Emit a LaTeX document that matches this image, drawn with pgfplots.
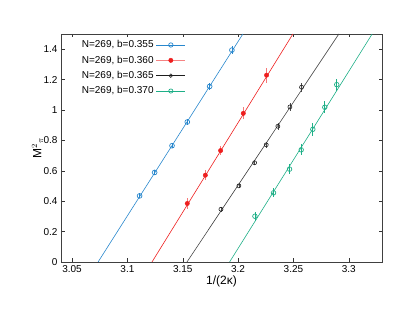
\documentclass[border=0pt]{standalone}
\usepackage{graphicx}
\usepackage{pgfplots}
\pgfplotsset{compat=1.18}
\usepackage{fontspec}
\setmainfont{Liberation Sans}
\definecolor{cB}{RGB}{40,135,205}
\definecolor{cR}{RGB}{238,30,30}
\definecolor{cK}{RGB}{30,30,30}
\definecolor{cG}{RGB}{30,175,135}
\begin{document}
\begin{tikzpicture}
\path[use as bounding box] (-61pt,-53pt) rectangle (346pt,262pt);
\begin{axis}[
  scale only axis, width=321pt, height=228pt,
  xmin=3.04, xmax=3.33, ymin=0, ymax=1.5,
  xtick={3.05,3.1,3.15,3.2,3.25,3.3},
  ytick={0,0.2,0.4,0.6,0.8,1,1.2,1.4},
  /pgf/number format/assume math mode=true,
  tick label style={font=\fontsize{10}{12}\selectfont},
  tick align=inside, major tick length=3.5pt,
  tick style={black!80, line width=0.5pt},
  axis line style={black!75, line width=0.7pt},
  xlabel={1/(2κ)},
  every axis x label/.style={at={(axis description cs:0.5,-0.083)}, anchor=center,
    font=\fontsize{12}{14}\selectfont},
  legend plot pos=right,
  legend cell align=right,
  legend style={draw=none, fill=none, at={(rel axis cs:0.055,0.985)}, anchor=north west,
    font=\fontsize{10}{12}\selectfont, row sep=2.6pt, inner sep=1pt},
  error bars/y dir=both, error bars/y explicit,
  error bars/error mark=none,
]
% data series
\addplot[cB, only marks, mark=o, mark size=2.4pt, mark options={line width=0.7pt},
  error bars/error bar style={cB, line width=0.7pt},
  legend image code/.code={\draw[cB,line width=0.7pt] (0pt,0pt) -- (29pt,0pt);
    \draw[cB,line width=0.7pt] (14.5pt,0pt) circle (2.2pt);}]
  coordinates {
  (3.111,0.435) +- (0,0.015)
  (3.1246,0.589) +- (0,0.016)
  (3.1403,0.765) +- (0,0.018)
  (3.1541,0.921) +- (0,0.02)
  (3.1743,1.155) +- (0,0.024)
  (3.1944,1.394) +- (0,0.028)
  };
\addlegendentry{N=269, b=0.355}
\addplot[cR, only marks, mark=*, mark size=2.2pt,
  error bars/error bar style={cR!60, line width=1.2pt},
  legend image code/.code={\draw[cR!55,line width=1.5pt] (0pt,0pt) -- (29pt,0pt);
    \fill[cR] (14.5pt,0pt) circle (2.2pt);}]
  coordinates {
  (3.1541,0.385) +- (0,0.035)
  (3.1704,0.571) +- (0,0.033)
  (3.1842,0.733) +- (0,0.03)
  (3.2047,0.978) +- (0,0.04)
  (3.2257,1.229) +- (0,0.05)
  };
\addlegendentry{N=269, b=0.360}
\addplot[cK, only marks, mark=o, mark size=2pt, mark options={line width=0.6pt},
  error bars/error bar style={cK!80, line width=0.6pt},
  legend image code/.code={\draw[cK,line width=0.7pt] (0pt,0pt) -- (29pt,0pt);
    \draw[cK,line width=0.6pt] (14.5pt,0pt) circle (1.8pt);}]
  coordinates {
  (3.1845,0.347) +- (0,0.015)
  (3.2007,0.501) +- (0,0.016)
  (3.2149,0.653) +- (0,0.018)
  (3.2254,0.771) +- (0,0.02)
  (3.2359,0.893) +- (0,0.022)
  (3.2468,1.020) +- (0,0.025)
  (3.2573,1.150) +- (0,0.03)
  };
\addlegendentry{N=269, b=0.365}
\addplot[cG, only marks, mark=o, mark size=2.3pt, mark options={line width=0.7pt},
  error bars/error bar style={cG, line width=0.7pt},
  legend image code/.code={\draw[cG,line width=0.7pt] (0pt,0pt) -- (29pt,0pt);
    \draw[cG,line width=0.7pt] (14.5pt,0pt) circle (2.1pt);}]
  coordinates {
  (3.2152,0.301) +- (0,0.03)
  (3.2320,0.455) +- (0,0.03)
  (3.2465,0.611) +- (0,0.035)
  (3.2570,0.738) +- (0,0.035)
  (3.2675,0.873) +- (0,0.044)
  (3.2783,1.018) +- (0,0.04)
  (3.2891,1.167) +- (0,0.04)
  };
\addlegendentry{N=269, b=0.370}
% fit lines
\addplot[cB, line width=0.6pt, forget plot, no marks] coordinates {(3.0735,0) (3.2043,1.5)};
\addplot[cR, line width=0.6pt, forget plot, no marks] coordinates {(3.1222,0) (3.2495,1.5)};
\addplot[cK!85, line width=0.6pt, forget plot, no marks] coordinates {(3.1538,0) (3.2910,1.5)};
\addplot[cG, line width=0.6pt, forget plot, no marks] coordinates {(3.1923,0) (3.3211,1.5)};
\end{axis}
\node[anchor=center, inner sep=0pt, font=\fontsize{12}{14}\selectfont]
  at (-23.5pt,114pt) {\rotatebox{90}{M$^{2}{}_{\pi}$}};
\end{tikzpicture}
\end{document}
